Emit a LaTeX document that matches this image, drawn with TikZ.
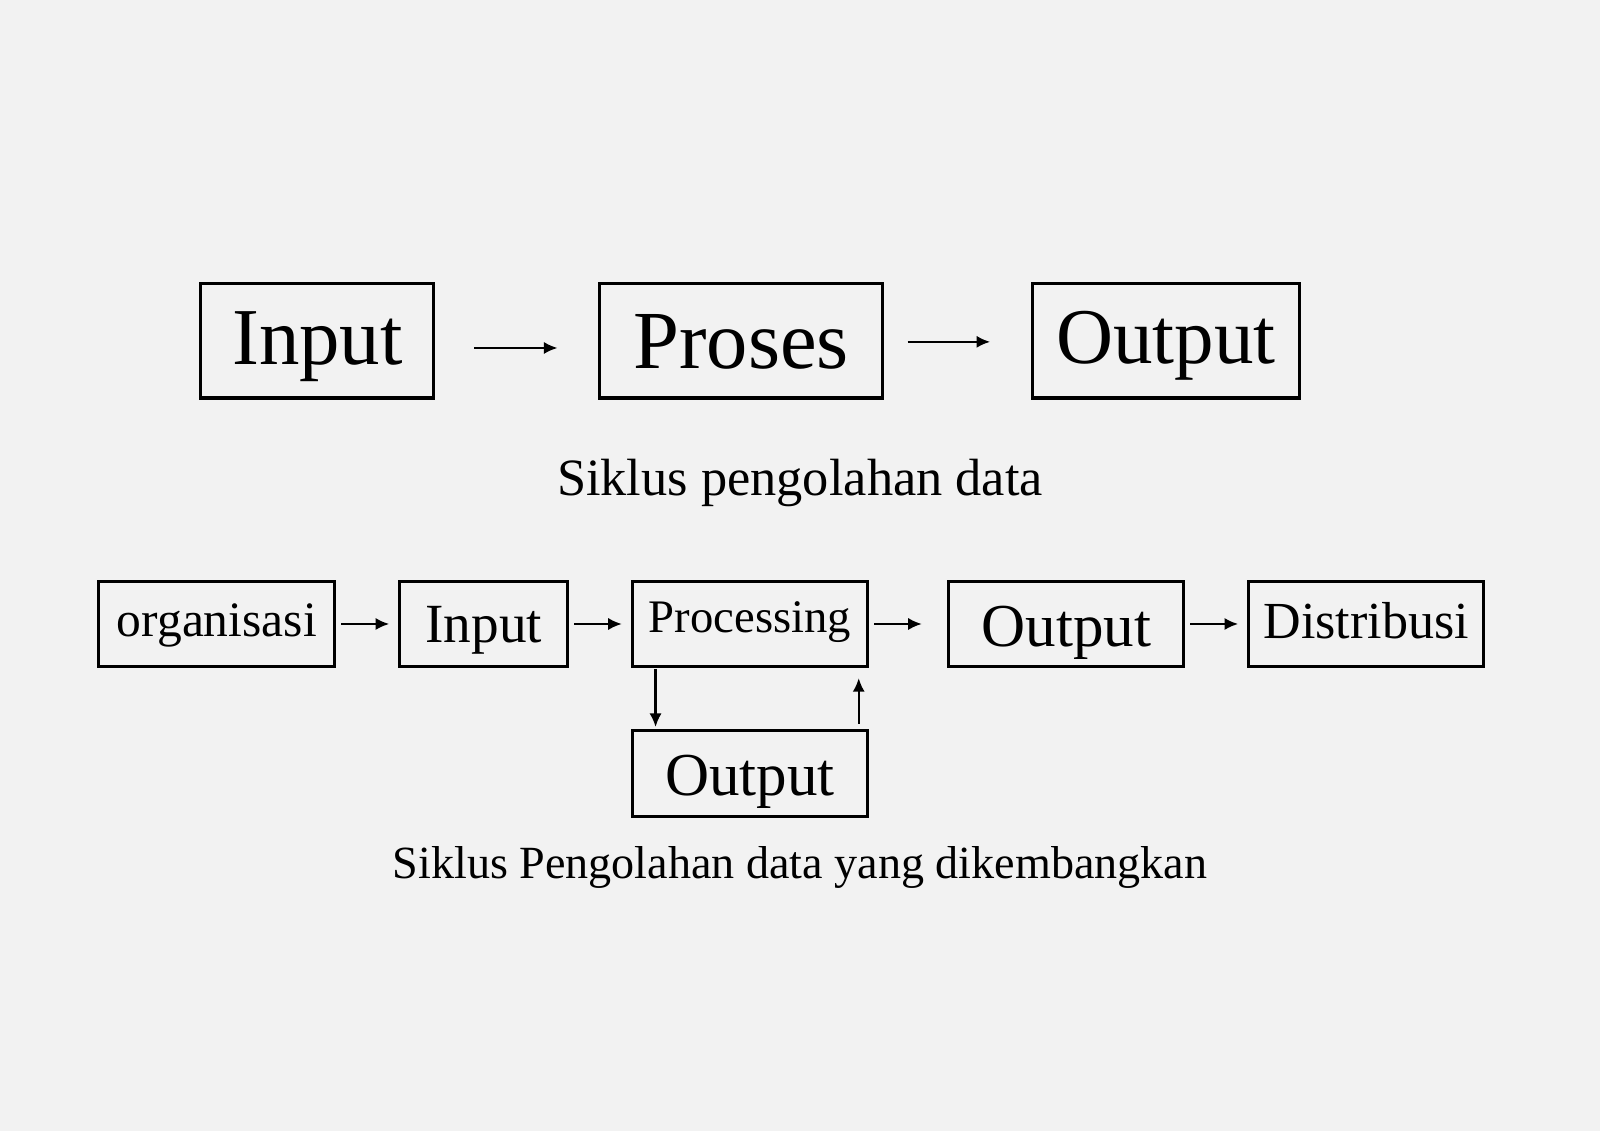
\documentclass[tikz,border=0pt]{standalone}
\usepackage{fontspec}
\setmainfont{Liberation Serif}
\usetikzlibrary{arrows.meta}
\definecolor{paper}{RGB}{242,242,242}
\newcommand{\fs}[1]{\fontsize{#1}{#1}\selectfont}
\begin{document}
\begin{tikzpicture}[x=0.01cm,y=-0.01cm,
    box/.style={draw,line width=0.85pt,inner sep=0pt,text depth=0pt},
    arr/.style={-{Latex[length=3.8pt,width=3.4pt]},line width=0.65pt}]
      \fill[paper] (0,0) rectangle (1568,1108);
      \node[box,minimum width=2.28cm,minimum height=1.12cm,text height=13.1pt,font=\fs{22.5}] (inp) at (311,334) {Input};
      \node[box,minimum width=2.77cm,minimum height=1.12cm,text height=15.4pt,font=\fs{23}] (pro) at (726.5,334) {Proses};
      \node[box,minimum width=2.61cm,minimum height=1.12cm,text height=12.5pt,font=\fs{22}] (out) at (1142.5,334) {Output};
      \draw[arr,shorten <=0.38cm,shorten >=0.40cm] ([yshift=-0.07cm]inp.east) -- ([yshift=-0.07cm]pro.west);
      \draw[arr,shorten <=0.23cm,shorten >=0.40cm] ([yshift=-0.01cm]pro.east) -- ([yshift=-0.01cm]out.west);
      \node[anchor=base,font=\fs{14.6}] (cap1) at (784,486) {Siklus pengolahan data};
      \node[box,minimum width=2.31cm,minimum height=0.83cm,text height=7.1pt,font=\fs{13.8}] (org) at (212.5,611.5) {organisasi};
      \node[box,minimum width=1.64cm,minimum height=0.83cm,text height=10.5pt,font=\fs{15.4}] (inp2) at (474,611.5) {Input};
      \node[box,minimum width=2.30cm,minimum height=0.83cm,text height=4.8pt,font=\fs{13}] (proc) at (735,611.5) {Processing};
      \node[box,minimum width=2.30cm,minimum height=0.83cm,text height=12.8pt,font=\fs{17}] (out2) at (1045,611.5) {Output};
      \node[box,minimum width=2.30cm,minimum height=0.83cm,text height=8.3pt,font=\fs{14.5}] (dist) at (1339,611.5) {Distribusi};
      \node[box,minimum width=2.30cm,minimum height=0.84cm,text height=12pt,font=\fs{17}] (out3) at (735,758) {Output};
      \draw[arr,shorten <=0.05cm,shorten >=0.09cm] (org) -- (inp2);
      \draw[arr,shorten <=0.05cm,shorten >=0.09cm] (inp2) -- (proc);
      \draw[arr,shorten <=0.05cm,shorten >=0.25cm] (proc) -- (out2);
      \draw[arr,shorten <=0.05cm,shorten >=0.09cm] (out2) -- (dist);
      \draw[arr,shorten <=0.01cm,shorten >=0.02cm] ([xshift=0.24cm]proc.south west) -- ([xshift=0.24cm]out3.north west);
      \draw[arr,shorten <=0.05cm,shorten >=0.10cm] ([xshift=-0.10cm]out3.north east) -- ([xshift=-0.10cm]proc.south east);
      \node[anchor=base,font=\fs{12.85}] (cap2) at (784,861) {Siklus Pengolahan data yang dikembangkan};
\end{tikzpicture}
\end{document}
